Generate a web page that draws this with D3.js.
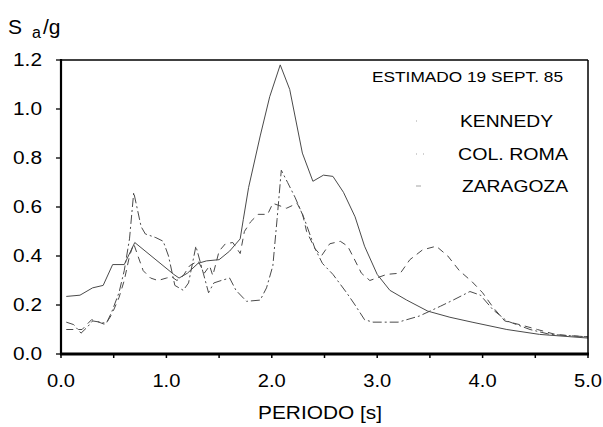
<!DOCTYPE html>
<html><head><meta charset="utf-8">
<script src="https://cdn.jsdelivr.net/npm/d3@7"></script>
<style>
html,body{margin:0;padding:0;background:#fff;}
svg text{font-family:"Liberation Sans",Arial,sans-serif;fill:#000;}
</style></head>
<body><svg id="c" width="603" height="427"></svg>
<script>
// ---- data (period T [s], Sa/g) ----
const seriesNames = ["KENNEDY", "COL. ROMA", "ZARAGOZA"];
const kennedy = [[0.05,0.235],[0.18,0.24],[0.3,0.27],[0.4,0.28],[0.49,0.365],[0.6,0.365],[0.7,0.455],[1.07,0.325],[1.12,0.31],[1.2,0.33],[1.3,0.37],[1.38,0.38],[1.5,0.385],[1.6,0.42],[1.7,0.47],[1.73,0.55],[1.78,0.68],[1.89,0.89],[1.98,1.05],[2.08,1.18],[2.17,1.08],[2.29,0.82],[2.39,0.705],[2.49,0.73],[2.58,0.725],[2.68,0.66],[2.79,0.56],[2.88,0.44],[3.0,0.325],[3.12,0.26],[3.28,0.22],[3.48,0.175],[3.69,0.15],[3.9,0.13],[4.23,0.10],[4.54,0.08],[5.0,0.065]];
const colRoma = [[0.05,0.13],[0.12,0.12],[0.19,0.085],[0.25,0.11],[0.3,0.135],[0.37,0.13],[0.43,0.125],[0.48,0.17],[0.55,0.25],[0.6,0.34],[0.65,0.47],[0.69,0.66],[0.72,0.60],[0.76,0.52],[0.8,0.49],[0.9,0.475],[0.97,0.46],[1.02,0.40],[1.08,0.28],[1.16,0.26],[1.21,0.29],[1.28,0.44],[1.35,0.33],[1.4,0.25],[1.45,0.29],[1.52,0.30],[1.6,0.31],[1.66,0.26],[1.76,0.215],[1.89,0.22],[1.95,0.27],[2.01,0.36],[2.05,0.55],[2.09,0.75],[2.15,0.70],[2.22,0.64],[2.31,0.55],[2.41,0.43],[2.48,0.37],[2.58,0.325],[2.71,0.25],[2.79,0.2],[2.88,0.14],[2.96,0.13],[3.2,0.13],[3.4,0.155],[3.6,0.195],[3.72,0.22],[3.88,0.255],[3.98,0.24],[4.1,0.18],[4.23,0.135],[4.45,0.10],[4.64,0.08],[5.0,0.07]];
const zaragoza = [[0.05,0.10],[0.12,0.10],[0.2,0.10],[0.29,0.14],[0.36,0.13],[0.42,0.12],[0.48,0.16],[0.55,0.23],[0.6,0.30],[0.65,0.40],[0.69,0.45],[0.73,0.40],[0.78,0.34],[0.85,0.31],[0.92,0.30],[1.0,0.31],[1.05,0.315],[1.1,0.30],[1.16,0.32],[1.22,0.36],[1.3,0.38],[1.36,0.33],[1.41,0.36],[1.44,0.32],[1.5,0.42],[1.56,0.45],[1.63,0.455],[1.7,0.41],[1.74,0.50],[1.8,0.54],[1.87,0.57],[1.96,0.57],[2.01,0.615],[2.14,0.595],[2.24,0.615],[2.29,0.575],[2.33,0.50],[2.41,0.43],[2.47,0.40],[2.55,0.45],[2.65,0.46],[2.72,0.44],[2.78,0.39],[2.85,0.33],[2.93,0.30],[3.09,0.325],[3.22,0.33],[3.31,0.385],[3.43,0.425],[3.56,0.44],[3.67,0.40],[3.78,0.34],[3.9,0.295],[4.0,0.25],[4.1,0.19],[4.21,0.135],[4.35,0.12],[4.52,0.10],[4.69,0.08],[4.81,0.075],[5.0,0.07]];
const xTicks = [0,1,2,3,4,5];
const yTicks = [0,0.2,0.4,0.6,0.8,1.0,1.2];

// ---- layout ----
const svg = d3.select("#c");
const L = 61, R = 588, T = 60, B = 354;
const x = d3.scaleLinear().domain([0,5]).range([L,R]);
const y = d3.scaleLinear().domain([0,1.2]).range([B,T]);

const styles = [
  {dash:null, color:"#4a4a4a", w:1},
  {dash:"9,3,2,3", color:"#4a4a4a", w:1},
  {dash:"7,5", color:"#4a4a4a", w:1}
];
const allSeries = [kennedy, colRoma, zaragoza];

// minor ticks
const g = svg.append("g");
g.selectAll(".xt").data(d3.range(0,5.01,0.5)).join("line")
  .attr("x1",d=>x(d)).attr("x2",d=>x(d)).attr("y1",B).attr("y2",B+4)
  .attr("stroke","#000").attr("stroke-width",1.5);
g.selectAll(".yt").data(yTicks).join("line")
  .attr("x1",L-5).attr("x2",L).attr("y1",d=>y(d)).attr("y2",d=>y(d))
  .attr("stroke","#000").attr("stroke-width",1.3);

// lines
const line = d3.line().x(d=>x(d[0])).y(d=>y(d[1]));
allSeries.forEach((s,i)=>{
  svg.append("path").datum(s).attr("d",line).attr("fill","none")
    .attr("stroke",styles[i].color).attr("stroke-width",styles[i].w)
    .attr("stroke-dasharray",styles[i].dash);
});

// frame
svg.append("line").attr("x1",L).attr("x2",R).attr("y1",T).attr("y2",T).attr("stroke","#000").attr("stroke-width",1.5);
svg.append("line").attr("x1",R).attr("x2",R).attr("y1",T).attr("y2",B).attr("stroke","#000").attr("stroke-width",1.5);
svg.append("line").attr("x1",L).attr("x2",L).attr("y1",T-1).attr("y2",B+1).attr("stroke","#000").attr("stroke-width",2.2);
svg.append("line").attr("x1",L-1).attr("x2",R+1).attr("y1",B).attr("y2",B).attr("stroke","#000").attr("stroke-width",3);

// tick labels
svg.selectAll(".xl").data(xTicks).join("text")
  .attr("x",d=>x(d)).attr("y",387).attr("text-anchor","middle")
  .attr("font-size",18).attr("textLength",28).attr("lengthAdjust","spacingAndGlyphs")
  .text(d=>d3.format(".1f")(d));
svg.selectAll(".yl").data(yTicks).join("text")
  .attr("x",42).attr("y",d=>y(d)+6).attr("text-anchor","end")
  .attr("font-size",18).attr("textLength",29).attr("lengthAdjust","spacingAndGlyphs")
  .text(d=>d3.format(".1f")(d));

// axis titles
svg.append("text").attr("x",258).attr("y",419).attr("font-size",19)
  .attr("textLength",124).attr("lengthAdjust","spacingAndGlyphs").text("PERIODO [s]");
const yt = svg.append("text").attr("x",8).attr("y",34).attr("font-size",21);
yt.append("tspan").text("S");
yt.append("tspan").attr("x",32).attr("y",38).attr("font-size",16).text("a");
yt.append("tspan").attr("x",43).attr("y",34).text("/g");

// annotation + legend
svg.append("text").attr("x",372).attr("y",82).attr("font-size",14)
  .attr("textLength",191).attr("lengthAdjust","spacingAndGlyphs").text("ESTIMADO 19 SEPT. 85");
const legY = [127,160,192];
const legW = [93,110,106];
const legX = [460,458,462];
seriesNames.forEach((n,i)=>{
  svg.append("text").attr("x",legX[i]).attr("y",legY[i]).attr("font-size",17)
    .attr("textLength",legW[i]).attr("lengthAdjust","spacingAndGlyphs").text(n);
  svg.append("line").attr("x1",416).attr("x2",426).attr("y1",legY[i]-6).attr("y2",legY[i]-6)
    .attr("stroke",styles[i].color).attr("stroke-width",1).attr("opacity",0.5)
    .attr("stroke-dasharray", i===0 ? "1,9" : (i===1 ? "1,6" : "5,5"));
});
</script></body></html>
